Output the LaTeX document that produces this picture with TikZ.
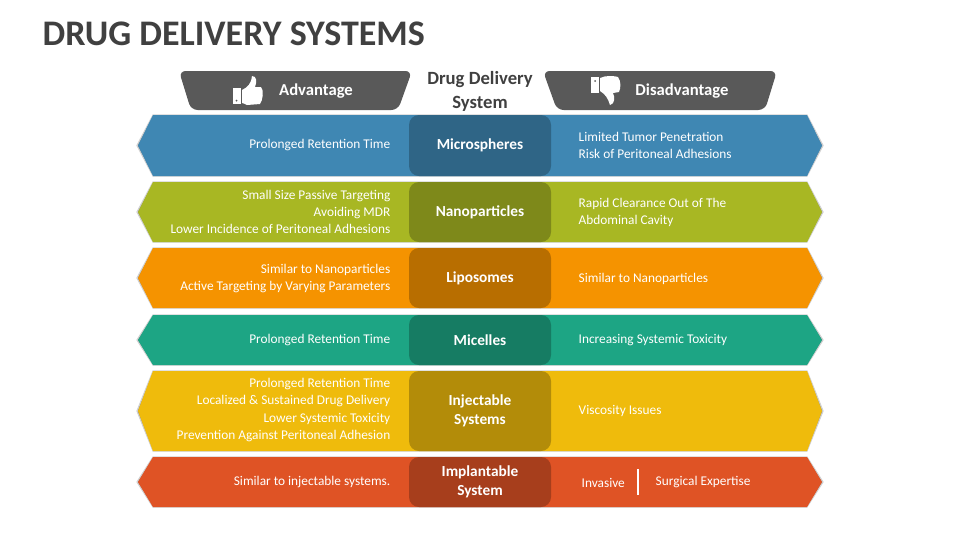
\documentclass[tikz,border=0pt]{standalone}
\usepackage{fontspec}
\setmainfont{Carlito}
\usetikzlibrary{positioning}

\definecolor{bluerow}{HTML}{3F87B3}
\definecolor{greenrow}{HTML}{A8B723}
\definecolor{orangerow}{HTML}{F59300}
\definecolor{tealrow}{HTML}{1DA584}
\definecolor{yellowrow}{HTML}{EFBB0C}
\definecolor{redrow}{HTML}{DF5325}
\definecolor{headgray}{HTML}{595959}
\definecolor{titlegray}{HTML}{404040}

\begin{document}
\begin{tikzpicture}[x=0.75pt, y=-0.75pt,
                    bandshadow/.style={fill=black!45, draw=black!18, line width=0.9pt},
                    centerbox/.style={rounded corners=7.5pt, minimum width=106.5pt, inner sep=0pt, text=white, align=center, font=\bfseries\fontsize{11.5}{14.2}\selectfont},
                    leftnote/.style={anchor=east, align=right, text=white, font=\fontsize{10}{12.8}\selectfont},
                    rightnote/.style={anchor=west, align=left, text=white, font=\fontsize{10}{12.8}\selectfont},
                    headbox/.style={fill=headgray, rounded corners=5pt},
                    headtext/.style={text=white, font=\bfseries\fontsize{12.5}{15}\selectfont},
                ]
                    \useasboundingbox (0,0) rectangle (960,540);

                    %Title
                    \node[anchor=west, text=titlegray, font=\bfseries\fontsize{27}{32}\selectfont] (title) at (38,34) {DRUG DELIVERY SYSTEMS};

                    %Header
                    \fill[headbox] (179,71) -- (412,71) -- (398,110) -- (191,110) -- cycle;
                    \fill[headbox] (543,71) -- (777,71) -- (765,110) -- (557,110) -- cycle;
                    \node[headtext] (adv) at (316,91) {Advantage};
                    \node[headtext] (dis) at (682,91) {Disadvantage};
                    \node[text=titlegray, align=center, font=\bfseries\fontsize{14}{18}\selectfont] (system) at (480,91) {Drug Delivery\\System};

                    %Thumbs
                    \fill[white] (233,88) -- (241,88) -- (241,104) -- (233,104) -- cycle;
                    \fill[white] (242,90) .. controls (248,87) and (251,84) .. (252,76) .. controls (257,76) and (257,82) .. (255,87) -- (261,87) .. controls (264,90) and (263,100) .. (260,104) -- (247,105) .. controls (245,104) and (243,103) .. (242,103) -- cycle;
                    \fill[white] (591,77) -- (599,77) -- (599,93) -- (591,93) -- cycle;
                    \fill[white] (600,78) .. controls (606,75) and (615,76) .. (618,77) .. controls (621,81) and (621,88) .. (619,92) -- (613,93) .. controls (615,97) and (615,104) .. (610,105) .. controls (608,98) and (605,94) .. (600,91) -- cycle;
                    \fill[headgray] (236.5,100.5) circle (1);
                    \fill[headgray] (595,81) circle (1);

                    %Bands
                    \foreach \rowname/\ytop/\ybot/\rowcol in {micro/115/176/bluerow, nano/182/242/greenrow, lipo/248/308/orangerow, mice/315/365/tealrow, inject/371/451/yellowrow, implant/457/507/redrow}{
                        \pgfmathsetmacro{\ymid}{(\ytop+\ybot)/2}
                        \filldraw[bandshadow] (153,\ytop) -- (807,\ytop) -- (823,\ymid) -- (807,\ybot) -- (153,\ybot) -- (137,\ymid) -- cycle;
                        \fill[\rowcol] (153,\ytop) -- (807,\ytop) -- (822,\ymid) -- (807,\ybot) -- (153,\ybot) -- (138,\ymid) -- cycle;
                        \pgfmathsetmacro{\boxh}{(\ybot-\ytop)*0.75}
                        \node[centerbox, fill=\rowcol!75!black, minimum height=\boxh pt] (\rowname) at (480,\ymid) {};
                    }

                    %Center labels
                    \node[centerbox] (microtext) at (micro) {Microspheres};
                    \node[centerbox] (nanotext) at (nano) {Nanoparticles};
                    \node[centerbox] (lipotext) at (lipo) {Liposomes};
                    \node[centerbox] (micetext) at (mice) {Micelles};
                    \node[centerbox] (injecttext) at (inject) {Injectable\\Systems};
                    \node[centerbox] (implanttext) at (implant) {Implantable\\System};

                    %Left notes
                    \node[leftnote] (microleft) at (395,145.5) {Prolonged Retention Time};
                    \node[leftnote] (nanoleft) at (395,212) {Small Size Passive Targeting\\Avoiding MDR\\Lower Incidence of Peritoneal Adhesions};
                    \node[leftnote] (lipoleft) at (395,278.5) {Similar to Nanoparticles\\Active Targeting by Varying Parameters};
                    \node[leftnote] (miceleft) at (395,340) {Prolonged Retention Time};
                    \node[leftnote] (injectleft) at (395,410) {Prolonged Retention Time\\Localized \& Sustained Drug Delivery\\Lower Systemic Toxicity\\Prevention Against Peritoneal Adhesion};
                    \node[leftnote] (implantleft) at (395,482.5) {Similar to injectable systems.};

                    %Right notes
                    \node[rightnote] (microright) at (574,145.5) {Limited Tumor Penetration\\Risk of Peritoneal Adhesions};
                    \node[rightnote] (nanoright) at (574,212) {Rapid Clearance Out of The\\Abdominal Cavity};
                    \node[rightnote] (liporight) at (574,278.5) {Similar to Nanoparticles};
                    \node[rightnote] (miceright) at (574,340) {Increasing Systemic Toxicity};
                    \node[rightnote] (injectright) at (574,410.5) {Viscosity Issues};
                    \node[rightnote] (invasive) at (577,482.5) {Invasive};
                    \node[rightnote] (surgical) at (651,482.5) {Surgical Expertise};

                    %Lines
                    \draw[white, line width=1pt] (638,469) -- (638,495);
                \end{tikzpicture}
\end{document}
